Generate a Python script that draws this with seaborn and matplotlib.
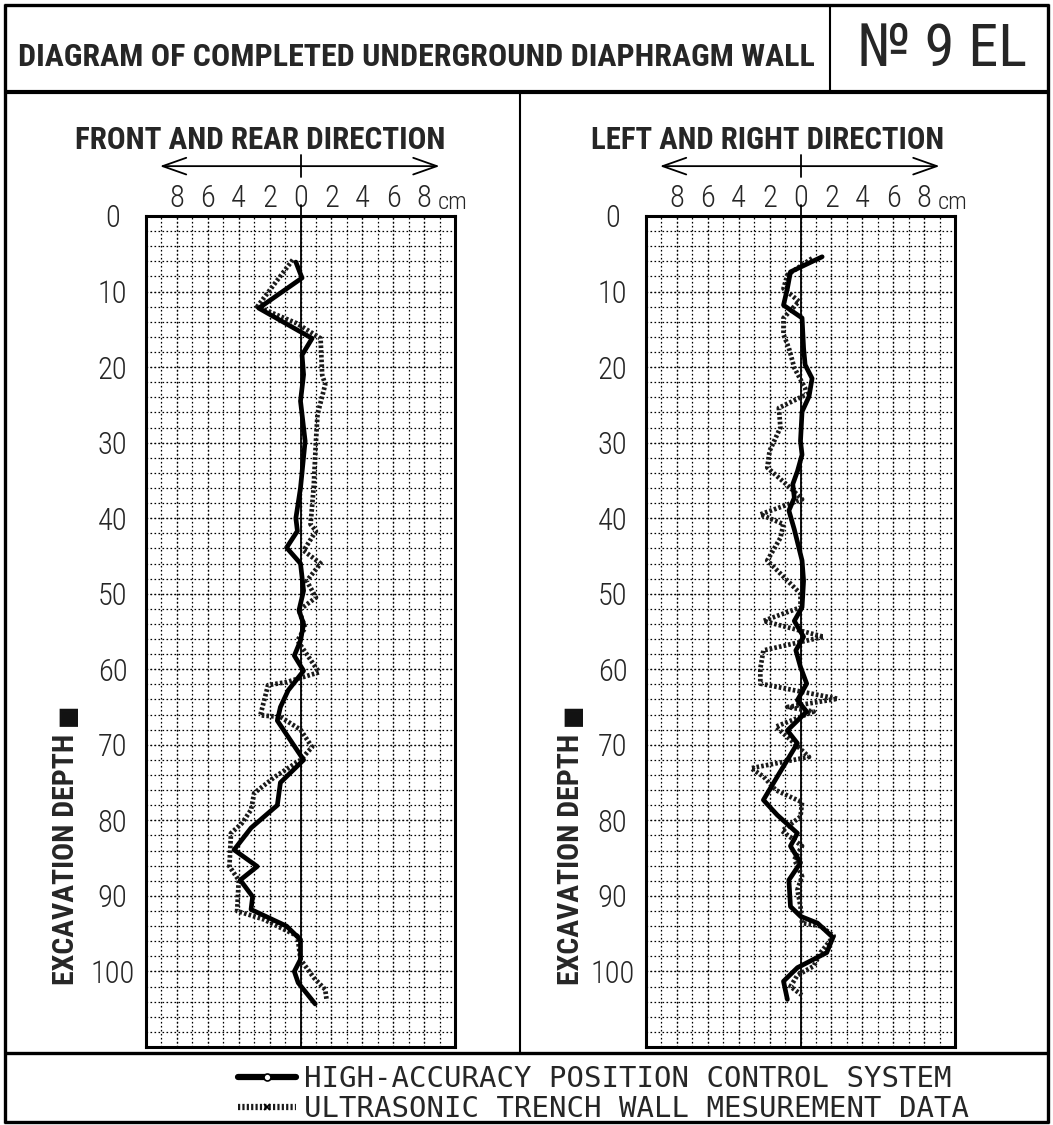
import os
import numpy as np
import pandas as pd
import matplotlib
matplotlib.use("Agg")
import matplotlib.pyplot as plt
import matplotlib.font_manager as fm
from matplotlib.font_manager import FontProperties
from matplotlib.lines import Line2D
from matplotlib.legend_handler import HandlerLine2D
import seaborn as sns

# ---------------- data ----------------
title_text = "DIAGRAM OF COMPLETED UNDERGROUND DIAPHRAGM WALL"
number_text = "\u2116 9 EL"
panel_titles = ["FRONT AND REAR DIRECTION", "LEFT AND RIGHT DIRECTION"]
ylabel_text = "EXCAVATION DEPTH"
series_labels = ["HIGH-ACCURACY POSITION CONTROL SYSTEM",
                 "ULTRASONIC TRENCH WALL MESUREMENT DATA"]
x_tick_values = [-8, -6, -4, -2, 0, 2, 4, 6, 8]
x_tick_labels = ["8", "6", "4", "2", "0", "2", "4", "6", "8"]
y_tick_values = [0, 10, 20, 30, 40, 50, 60, 70, 80, 90, 100]
y_tick_labels = ["0", "10", "20", "30", "40", "50", "60", "70", "80", "90", "100"]

# front/rear – high-accuracy position control system (solid)
fr_hapc_depth = [6.1, 8.2, 12.2, 16.2, 18.4, 21.0, 24.5, 29.8, 36.0, 40.0,
                 41.7, 43.9, 46.0, 49.6, 52.2, 54.0, 56.2, 58.2, 60.2, 62.8,
                 65.0, 66.8, 72.0, 75.0, 78.0, 81.0, 83.9, 86.1, 87.9, 90.1,
                 91.8, 94.0, 95.8, 98.4, 100.0, 101.5, 104.3]
fr_hapc_cm = [-0.3, 0.1, -2.7, 0.75, 0.1, 0.2, 0.0, 0.3, 0.0, -0.3,
              -0.2, -0.9, 0.0, 0.2, -0.1, 0.2, 0.0, -0.4, 0.2, -0.8,
              -1.3, -1.5, 0.2, -1.3, -1.5, -3.2, -4.3, -2.8, -3.9, -3.1,
              -3.2, -0.9, 0.0, 0.0, -0.4, -0.15, 0.95]

# front/rear – ultrasonic trench wall measurement (dotted)
fr_utwm_depth = [5.8, 12.0, 14.2, 16.2, 21.0, 22.3, 26.3, 29.8, 36.0, 40.8,
                 41.7, 44.3, 46.0, 48.3, 50.5, 52.2, 54.5, 56.2, 58.0, 60.4,
                 61.7, 62.1, 66.1, 66.3, 68.0, 70.3, 72.0, 74.3, 76.4, 78.6,
                 80.4, 81.7, 86.1, 87.9, 92.0, 93.1, 95.3, 98.4, 100.8, 102.4,
                 103.9]
fr_utwm_cm = [-0.5, -2.8, -0.25, 1.3, 1.4, 1.6, 1.1, 1.0, 0.85, 0.65,
              1.0, 0.2, 1.3, 0.4, 1.0, -0.1, 0.3, -0.2, 0.4, 1.2,
              -0.9, -2.1, -2.6, -1.3, 0.0, 0.75, 0.0, -1.7, -3.0, -3.2,
              -3.8, -4.5, -4.6, -4.0, -4.1, -2.4, -0.2, 0.0, 0.85, 1.6,
              1.7]

# left/right – high-accuracy position control system (solid)
lr_hapc_depth = [5.4, 7.4, 9.6, 11.8, 13.5, 17.5, 19.7, 21.5, 23.9, 25.9,
                 29.8, 31.6, 33.8, 35.5, 37.3, 39.0, 41.5, 45.6, 48.3, 51.8,
                 53.6, 55.7, 57.5, 59.7, 61.9, 64.1, 65.6, 68.1, 69.8, 72.0,
                 74.2, 77.3, 79.3, 81.7, 83.4, 85.6, 87.9, 91.4, 92.7, 93.6,
                 95.5, 97.5, 99.5, 101.3, 103.7]
lr_hapc_cm = [1.4, -0.65, -0.85, -1.1, 0.1, 0.2, 0.3, 0.75, 0.55, 0.1,
              0.0, 0.1, -0.2, -0.5, -0.4, -0.75, -0.4, 0.1, 0.2, 0.1,
              -0.4, 0.2, -0.3, 0.0, 0.4, -0.2, 0.4, -0.85, -0.2, -0.85,
              -1.5, -2.4, -1.5, -0.2, -0.65, 0.0, -0.75, -0.65, 0.0, 1.1,
              2.1, 1.7, -0.2, -1.1, -0.85]

# left/right – ultrasonic trench wall measurement (dotted)
lr_utwm_depth = [5.6, 7.8, 9.6, 11.3, 13.5, 15.7, 17.5, 20.1, 22.8, 23.6,
                 25.4, 28.0, 31.1, 33.3, 36.0, 37.5, 39.5, 40.8, 42.6, 45.6,
                 50.0, 51.8, 53.6, 55.7, 57.5, 59.9, 61.9, 63.9, 65.0, 65.6,
                 67.6, 69.8, 71.6, 73.1, 74.2, 76.0, 77.6, 79.5, 81.4, 83.4,
                 85.2, 87.4, 89.2, 91.4, 93.6, 94.0, 95.3, 97.5, 99.3, 100.5,
                 102.0, 103.3]
lr_utwm_cm = [0.75, -0.85, -1.1, -0.1, -1.1, -1.1, -0.75, -0.4, 0.3, 0.4,
              -1.4, -1.3, -2.0, -2.15, -0.65, 0.1, -2.6, -1.1, -1.3, -2.15,
              0.0, 0.0, -2.4, 1.5, -2.4, -2.6, -2.6, 2.4, -0.85, 0.85,
              -1.6, -0.4, 0.55, -3.2, -2.4, -1.6, 0.1, 0.0, -1.2, 0.1,
              -0.4, 0.1, -0.2, 0.0, 0.1, 1.3, 2.15, 1.3, 0.85, -0.2,
              -0.65, 0.2]

# ---------------- fonts ----------------
sns.set_style("white")
plt.rcParams["font.family"] = ["DejaVu Sans"]

_font_files = [f.fname for f in fm.fontManager.ttflist]


def find_font(names):
    for n in names:
        for f in _font_files:
            if os.path.basename(f).lower() == n.lower():
                return f
    return None


def fprop(names, fallback):
    f = find_font(names)
    if f:
        return FontProperties(fname=f)
    return FontProperties(**fallback)


fp_cond_bold = fprop(["NotoSans-ExtraCondensedBold.ttf", "NotoSansDisplay-ExtraCondensedBold.ttf",
                      "RobotoCondensed-Bold.ttf", "LiberationSansNarrow-Bold.ttf",
                      "NotoSans-CondensedBold.ttf", "OpenSans-CondBold.ttf",
                      "DejaVuSansCondensed-Bold.ttf"],
                     dict(family="DejaVu Sans", weight="bold"))
fp_cond = fprop(["NotoSans-ExtraCondensedMedium.ttf", "NotoSans-CondensedMedium.ttf",
                 "NotoSans-Condensed.ttf", "RobotoCondensed-Regular.ttf",
                 "LiberationSansNarrow-Regular.ttf", "DejaVuSansCondensed.ttf"],
                dict(family="DejaVu Sans"))
digit_file = find_font(["NotoSans-CondensedLight.ttf", "NotoSans-SemiCondensedLight.ttf",
                        "NotoSans-ExtraCondensedLight.ttf", "RobotoCondensed-Light.ttf"])
if digit_file:
    fp_digit = FontProperties(fname=digit_file, size=22)
else:
    f2 = find_font(["Roboto-Light.ttf", "NotoSans-Light.ttf", "Lato-Light.ttf"])
    fp_digit = FontProperties(fname=f2, size=20) if f2 else FontProperties(family="DejaVu Sans", size=18)

# ---------------- figure ----------------
W, H = 1053, 1125
fig = plt.figure(figsize=(W / 100, H / 100), dpi=100)
fig.patch.set_facecolor("white")


def fx(px):
    return px / W


def fy(py):
    return 1 - py / H


def hline(y, x0, x1, lw):
    fig.add_artist(Line2D([fx(x0), fx(x1)], [fy(y), fy(y)], transform=fig.transFigure,
                          color="black", lw=lw, solid_capstyle="butt"))


def vline(x, y0, y1, lw):
    fig.add_artist(Line2D([fx(x), fx(x)], [fy(y0), fy(y1)], transform=fig.transFigure,
                          color="black", lw=lw, solid_capstyle="butt"))


# frame
hline(5, 4, 1049, 2.4)
hline(1122, 4, 1049, 2.4)
vline(5, 4, 1123, 2.4)
vline(1048, 4, 1123, 2.4)
hline(92, 4, 1049, 3.0)
vline(830, 5, 92, 1.5)
vline(520, 92, 1053, 1.5)
hline(1053, 4, 1049, 2.4)

renderer = fig.canvas.get_renderer()


def fit_width(t, target):
    for _ in range(3):
        w = t.get_window_extent(renderer).width
        t.set_fontsize(t.get_fontsize() * target / w)


def fit_height(t, target):
    for _ in range(3):
        h = t.get_window_extent(renderer).height
        t.set_fontsize(t.get_fontsize() * target / h)


t = fig.text(fx(18), fy(66), title_text, ha="left", va="baseline",
             fontproperties=fp_cond_bold, fontsize=30)
fit_width(t, 797)
t = fig.text(fx(942), fy(66), number_text, ha="center", va="baseline",
             fontproperties=fp_cond, fontsize=30)
fit_width(t, 170)

# ---------------- panels ----------------
panels = [
    dict(left=146, title=panel_titles[0], tcx=260, tw=370, ylx=74,
         hapc=pd.DataFrame({"depth": fr_hapc_depth, "cm": fr_hapc_cm}),
         utwm=pd.DataFrame({"depth": fr_utwm_depth, "cm": fr_utwm_cm})),
    dict(left=646, title=panel_titles[1], tcx=768, tw=353, ylx=579,
         hapc=pd.DataFrame({"depth": lr_hapc_depth, "cm": lr_hapc_cm}),
         utwm=pd.DataFrame({"depth": lr_utwm_depth, "cm": lr_utwm_cm})),
]

box_top, box_bot, box_w = 216, 1047, 309
dotted_ls = (0, (0.55, 0.45))

for p in panels:
    ax = fig.add_axes([fx(p["left"]), fy(box_bot), box_w / W, (box_bot - box_top) / H])
    ax.set_facecolor("white")
    ax.set_xlim(-10, 10)
    ax.set_ylim(110, 0)

    ax.set_xticks(x_tick_values)
    ax.set_xticklabels(x_tick_labels, fontproperties=fp_digit)
    ax.set_xticks(np.arange(-10, 11, 1), minor=True)
    ax.set_yticks(y_tick_values)
    ax.set_yticklabels(y_tick_labels, fontproperties=fp_digit)
    ax.set_yticks(np.arange(0, 111, 2), minor=True)
    ax.xaxis.remove_overlapping_locs = False
    ax.yaxis.remove_overlapping_locs = False
    ax.grid(which="both", color="black", lw=0.9, linestyle=(0, (1.3, 1.9)))
    ax.xaxis.tick_top()
    ax.tick_params(which="both", length=0)
    ax.tick_params(axis="x", pad=2)
    ax.tick_params(axis="y", pad=24)
    for lbl in ax.get_yticklabels():
        lbl.set_horizontalalignment("center")
    for s in ax.spines.values():
        s.set_color("black")
        s.set_linewidth(2.2)
        s.set_visible(True)

    ax.axvline(0, color="black", lw=1.3, zorder=2)
    tr = ax.get_xaxis_transform()
    ax.plot([0, 0], [1.0, 1.013], transform=tr, color="black", lw=1.3, clip_on=False)
    ax.plot([0, 0], [1.047, 1.073], transform=tr, color="black", lw=1.3, clip_on=False)
    ax.annotate("", xy=(-9.1, 1.06), xytext=(9.0, 1.06), xycoords=tr, textcoords=tr,
                arrowprops=dict(arrowstyle="<->,head_length=1.7,head_width=0.6",
                                lw=1.3, color="black", shrinkA=0, shrinkB=0,
                                mutation_scale=10),
                annotation_clip=False)
    ax.text(8.9, 1.002, "cm", transform=tr, ha="left", va="bottom",
            fontproperties=fp_digit, fontsize=fp_digit.get_size() * 0.8)

    sns.lineplot(data=p["utwm"], x="cm", y="depth", sort=False, estimator=None, ax=ax,
                 color="#1a1a1a", lw=3.4, linestyle=dotted_ls, zorder=3)
    sns.lineplot(data=p["hapc"], x="cm", y="depth", sort=False, estimator=None, ax=ax,
                 color="black", lw=3.4, zorder=4)
    ax.set_xlabel("")
    ax.set_ylabel("")

    # titles
    t = fig.text(fx(p["tcx"]), fy(149), p["title"], ha="center", va="baseline",
                 fontproperties=fp_cond_bold, fontsize=24)
    fit_width(t, p["tw"])

    # y label (rotated)
    t = fig.text(fx(p["ylx"]), fy(985), ylabel_text, ha="left", va="baseline",
                 rotation=90, rotation_mode="anchor",
                 fontproperties=fp_cond_bold, fontsize=20)
    fit_height(t, 250)
    bb = t.get_window_extent(renderer)
    fig.text(fx(p["ylx"]), bb.y1 / H + 8 / H, "\u25a0", ha="left", va="baseline",
             rotation=90, rotation_mode="anchor", family="DejaVu Sans",
             fontsize=t.get_fontsize() * 0.8, color="#111111")


# ---------------- legend ----------------
class EndMarkerHandler(HandlerLine2D):
    def get_xdata(self, legend, xdescent, ydescent, width, height, fontsize):
        xdata = np.array([-xdescent, -xdescent + width], float)
        return xdata, np.array([-xdescent + width], float)


probe = fig.text(0, 0, series_labels[1], family="DejaVu Sans Mono", fontsize=20)
fit_width(probe, 665)
leg_size = probe.get_fontsize()
probe.remove()
s_px = leg_size * 100 / 72

h_solid = Line2D([], [], color="black", lw=4.5, marker="o", ms=5, mfc="white",
                 mec="black", mew=1.2)
h_dot = Line2D([], [], color="#1a1a1a", lw=4.5, linestyle=(0, (0.35, 0.35)),
               marker="x", ms=5, mec="black", mew=1.2)
for h, lab, yy in [(h_solid, series_labels[0], 1079), (h_dot, series_labels[1], 1109)]:
    leg = fig.legend([h], [lab], loc="center left", bbox_to_anchor=(fx(238), fy(yy)),
                     frameon=False, prop=FontProperties(family="DejaVu Sans Mono", size=leg_size),
                     handlelength=58 / s_px, handletextpad=8 / s_px, borderpad=0,
                     borderaxespad=0, handler_map={h: EndMarkerHandler()})

fig.savefig("out.png", dpi=100, facecolor="white")
